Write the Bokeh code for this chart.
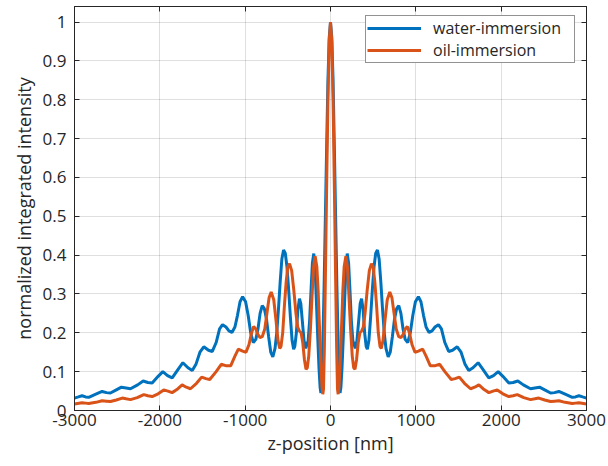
from bokeh.plotting import figure
from bokeh.models import LinearAxis, FixedTicker, Range1d, Legend, LegendItem
from bokeh.embed import file_html
from bokeh.resources import INLINE

# ---- data ----
water_z = [-3000, -2955, -2911, -2870, -2833, -2750, -2676, -2625, -2579, -2510,
           -2450, -2395, -2344, -2260, -2195, -2140, -2090, -2020, -1965, -1910,
           -1855, -1780, -1730, -1670, -1620, -1575, -1530, -1485, -1430, -1385,
           -1340, -1300, -1265, -1225, -1190, -1155, -1120, -1090, -1060, -1030,
           -995, -965, -935, -905, -875, -850, -825, -800, -775, -750,
           -725, -700, -676, -650, -630, -610, -590, -570, -550, -530,
           -510, -490, -470, -450, -432, -418, -400, -382, -364, -348,
           -330, -310, -290, -262, -245, -228, -212, -196, -180, -165,
           -150, -135, -122, -112, -102, -90, -75, -60, -45, -30, -15,
           0, 15, 30, 45, 60, 75, 90, 102, 112, 122,
           135, 150, 165, 180, 196, 212, 228, 245, 262, 290,
           310, 330, 348, 364, 382, 400, 418, 432, 450, 470,
           490, 510, 530, 550, 570, 590, 610, 630, 650, 676,
           700, 725, 750, 775, 800, 825, 850, 875, 905, 935,
           965, 995, 1030, 1060, 1090, 1120, 1155, 1190, 1225, 1265,
           1300, 1340, 1385, 1430, 1485, 1530, 1575, 1620, 1670, 1730,
           1780, 1855, 1910, 1965, 2020, 2090, 2140, 2195, 2260, 2344,
           2395, 2450, 2510, 2579, 2625, 2676, 2750, 2833, 2870, 2911,
           2955, 3000]
water_int = [0.032, 0.035, 0.038, 0.035, 0.034, 0.042, 0.049, 0.046, 0.045, 0.053,
             0.06, 0.058, 0.056, 0.066, 0.076, 0.072, 0.071, 0.088, 0.1, 0.09,
             0.084, 0.108, 0.123, 0.11, 0.103, 0.12, 0.15, 0.164, 0.155, 0.152,
             0.175, 0.21, 0.221, 0.215, 0.205, 0.201, 0.215, 0.245, 0.28, 0.293,
             0.28, 0.245, 0.2, 0.175, 0.183, 0.21, 0.25, 0.27, 0.262, 0.235,
             0.19, 0.15, 0.138, 0.16, 0.2, 0.26, 0.33, 0.39, 0.413, 0.405,
             0.37, 0.31, 0.24, 0.18, 0.158, 0.165, 0.2, 0.26, 0.288, 0.275,
             0.23, 0.18, 0.16, 0.18, 0.23, 0.31, 0.38, 0.404, 0.36, 0.28,
             0.19, 0.11, 0.06, 0.045, 0.08, 0.17, 0.32, 0.50, 0.68, 0.85, 0.96,
             1.0, 0.96, 0.85, 0.68, 0.50, 0.32, 0.17, 0.08, 0.045, 0.06,
             0.11, 0.19, 0.28, 0.36, 0.404, 0.38, 0.31, 0.23, 0.18, 0.16,
             0.18, 0.23, 0.275, 0.288, 0.26, 0.2, 0.165, 0.158, 0.18, 0.24,
             0.31, 0.37, 0.405, 0.413, 0.39, 0.33, 0.26, 0.2, 0.16, 0.138,
             0.15, 0.19, 0.235, 0.262, 0.27, 0.25, 0.21, 0.183, 0.175, 0.2,
             0.245, 0.28, 0.293, 0.28, 0.245, 0.215, 0.201, 0.205, 0.215, 0.221,
             0.21, 0.175, 0.152, 0.155, 0.164, 0.15, 0.12, 0.103, 0.11, 0.123,
             0.108, 0.084, 0.09, 0.1, 0.088, 0.071, 0.072, 0.076, 0.066, 0.056,
             0.058, 0.06, 0.053, 0.045, 0.046, 0.049, 0.042, 0.034, 0.035, 0.038,
             0.035, 0.032]

oil_z = [-3000, -2911, -2870, -2833, -2750, -2676, -2625, -2579, -2510, -2441,
         -2395, -2344, -2265, -2188, -2140, -2090, -2020, -1954, -1905, -1856,
         -1800, -1739, -1690, -1641, -1570, -1510, -1460, -1415, -1340, -1280,
         -1220, -1170, -1120, -1080, -1030, -990, -955, -925, -900, -875,
         -850, -825, -800, -770, -745, -720, -695, -665, -640, -615,
         -595, -580, -560, -540, -520, -500, -480, -455, -430, -405,
         -385, -365, -345, -325, -305, -287, -272, -255, -235, -215,
         -198, -180, -160, -145, -130, -115, -100, -90, -82, -72,
         -60, -45, -30, -15,
         0, 15, 30, 45, 60, 72, 82, 90, 100, 115,
         130, 145, 160, 180, 198, 215, 235, 255, 272, 287,
         305, 325, 345, 365, 385, 405, 430, 455, 480, 500,
         520, 540, 560, 580, 595, 615, 640, 665, 695, 720,
         745, 770, 800, 825, 850, 875, 900, 925, 955, 990,
         1030, 1080, 1120, 1170, 1220, 1280, 1340, 1415, 1460, 1510,
         1570, 1641, 1690, 1739, 1800, 1856, 1905, 1954, 2020, 2090,
         2140, 2188, 2265, 2344, 2395, 2441, 2510, 2579, 2625, 2676,
         2750, 2833, 2870, 2911, 3000]
oil_int = [0.017, 0.020, 0.019, 0.018, 0.021, 0.025, 0.024, 0.023, 0.027, 0.032,
           0.03, 0.028, 0.033, 0.041, 0.038, 0.036, 0.043, 0.053, 0.05, 0.046,
           0.054, 0.066, 0.06, 0.056, 0.07, 0.086, 0.082, 0.08, 0.1, 0.119,
           0.115, 0.115, 0.14, 0.158, 0.153, 0.15, 0.17, 0.2, 0.216, 0.21,
           0.195, 0.188, 0.19, 0.21, 0.25, 0.29, 0.305, 0.285, 0.235, 0.18,
           0.16, 0.165, 0.2, 0.27, 0.33, 0.37, 0.378, 0.36, 0.31, 0.25,
           0.215, 0.205, 0.2, 0.175, 0.13, 0.106, 0.11, 0.14, 0.21, 0.3,
           0.37, 0.397, 0.37, 0.31, 0.22, 0.13, 0.06, 0.042, 0.055, 0.16,
           0.34, 0.58, 0.80, 0.95,
           1.0, 0.95, 0.80, 0.58, 0.34, 0.16, 0.055, 0.042, 0.06, 0.13,
           0.22, 0.31, 0.37, 0.397, 0.37, 0.3, 0.21, 0.14, 0.11, 0.106,
           0.13, 0.175, 0.2, 0.205, 0.215, 0.25, 0.31, 0.36, 0.378, 0.37,
           0.33, 0.27, 0.2, 0.165, 0.16, 0.18, 0.235, 0.285, 0.305, 0.29,
           0.25, 0.21, 0.19, 0.188, 0.195, 0.21, 0.216, 0.2, 0.17, 0.15,
           0.153, 0.158, 0.14, 0.115, 0.115, 0.119, 0.1, 0.08, 0.082, 0.086,
           0.07, 0.056, 0.06, 0.066, 0.054, 0.046, 0.05, 0.053, 0.043, 0.036,
           0.038, 0.041, 0.033, 0.028, 0.03, 0.032, 0.027, 0.023, 0.024, 0.025,
           0.021, 0.018, 0.019, 0.020, 0.017]

x_ticks = [-3000, -2000, -1000, 0, 1000, 2000, 3000]
x_tick_labels = ["-3000", "-2000", "-1000", "0", "1000", "2000", "3000"]
y_ticks = [0, 0.1, 0.2, 0.3, 0.4, 0.5, 0.6, 0.7, 0.8, 0.9, 1]
y_tick_labels = ["0", "0.1", "0.2", "0.3", "0.4", "0.5", "0.6", "0.7", "0.8", "0.9", "1"]
series_names = ["water-immersion", "oil-immersion"]

# ---- styling ----
FONT = "Open Sans"
INK = "#262626"
BLUE = "#0072BD"
ORANGE = "#D95319"

p = figure(width=608, height=466, output_backend="svg", toolbar_location=None,
           x_range=Range1d(-3000, 3000), y_range=Range1d(0, 1.04),
           min_border_left=74, min_border_right=22, min_border_top=6,
           min_border_bottom=56, background_fill_color="white",
           border_fill_color="white")
p.outline_line_color = INK
p.outline_line_width = 1

xt = FixedTicker(ticks=x_ticks)
yt = FixedTicker(ticks=y_ticks)

p.xaxis.ticker = xt
p.yaxis.ticker = yt
p.xaxis.major_label_overrides = {t: s for t, s in zip(x_ticks, x_tick_labels)}
p.yaxis.major_label_overrides = {t: s for t, s in zip(y_ticks, y_tick_labels)}
p.xaxis.axis_label = "z-position [nm]"
p.yaxis.axis_label = "normalized integrated intensity"

for ax in (p.xaxis[0], p.yaxis[0]):
    ax.major_tick_in = 5
    ax.major_tick_out = 0
    ax.minor_tick_line_color = None
    ax.axis_line_color = INK
    ax.major_tick_line_color = INK
    ax.major_label_text_font = FONT
    ax.major_label_text_font_size = "17px"
    ax.major_label_text_color = INK
    ax.axis_label_text_font = FONT
    ax.axis_label_text_font_size = "18px"
    ax.axis_label_text_font_style = "normal"
    ax.axis_label_text_color = INK

p.xaxis.major_label_standoff = 3
p.xaxis.axis_label_standoff = 2
p.yaxis.major_label_standoff = 8
p.yaxis.axis_label_standoff = 4

for loc, tk in (("right", yt), ("above", xt)):
    ax = LinearAxis(ticker=tk, major_label_text_font_size="1px",
                    major_label_text_color=None,
                    major_tick_in=5, major_tick_out=0, major_label_standoff=0,
                    minor_tick_line_color=None, axis_line_color=INK,
                    major_tick_line_color=INK)
    p.add_layout(ax, loc)

p.xgrid.ticker = xt
p.ygrid.ticker = yt
for g in (p.xgrid[0], p.ygrid[0]):
    g.grid_line_color = INK
    g.grid_line_alpha = 0.15
    g.grid_line_width = 1

r_water = p.line(water_z, water_int, line_width=3, line_color=BLUE)
r_oil = p.line(oil_z, oil_int, line_width=3, line_color=ORANGE)

legend = Legend(items=[LegendItem(label=series_names[0], renderers=[r_water]),
                       LegendItem(label=series_names[1], renderers=[r_oil])],
                location=(291, 347))
legend.border_line_color = INK
legend.border_line_width = 1
legend.background_fill_color = "white"
legend.background_fill_alpha = 1
legend.label_text_font = FONT
legend.label_text_font_size = "16px"
legend.label_text_color = INK
legend.glyph_width = 54
legend.glyph_height = 16
legend.label_height = 16
legend.label_width = 140
legend.label_standoff = 12
legend.padding = 1
legend.spacing = 0
legend.margin = 0
p.add_layout(legend)

open("out.html", "w").write(file_html(p, INLINE))
